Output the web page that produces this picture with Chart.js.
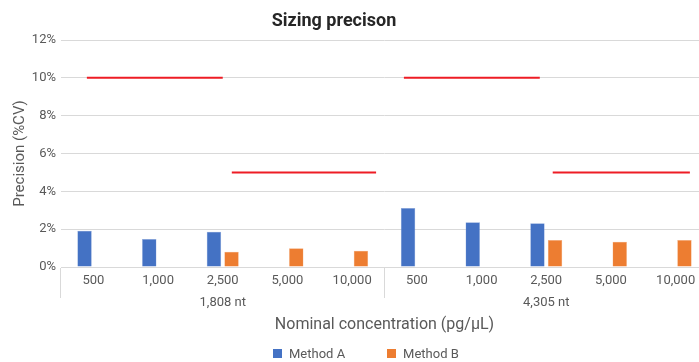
<!DOCTYPE html>
<html>
<head>
<meta charset="utf-8">
<script src="https://cdn.jsdelivr.net/npm/chart.js@4.4.1/dist/chart.umd.min.js"></script>
<style>
   body { margin: 0; overflow: hidden; background: #fff; }
   #wrap { position: relative; width: 720px; height: 362px; }
   #title { position: absolute; top: 9px; left: 234px; width: 200px; text-align: center;
      font: bold 18px Roboto, sans-serif; line-height: 22px; color: #262626; }
   #legend { position: absolute; top: 346px; left: 273px; font: 13px Roboto, sans-serif; color: #595959;
      white-space: nowrap; line-height: 16px; }
   #legend span.item { display: inline-block; margin-right: 42px; }
   #legend span.box { display: inline-block; width: 9px; height: 9px; margin-right: 7px; vertical-align: 0; }
</style>
</head>
<body>
<div id="wrap">
   <div id="title">Sizing precison</div>
   <canvas id="chart"></canvas>
   <div id="legend"></div>
</div>
<script>
const concentrations = ['500', '1,000', '2,500', '5,000', '10,000'];
const groups = ['1,808 nt', '4,305 nt'];
const methodA = [1.92, 1.48, 1.87, null, null, 3.12, 2.36, 2.31, null, null];
const methodB = [null, null, 0.81, 0.99, 0.86, null, null, 1.43, 1.34, 1.43];
// red limit lines, x in category index units, y in %
const limitStart = [-0.1, 2.14, 4.8, 7.1];
const limitEnd = [2.0, 4.37, 6.9, 9.22];
const limitValue = [10, 5, 10, 5];

const textColor = '#595959';
const gridColor = '#d9d9d9';

// two level labels: concentration, group name under the middle one
const labels = groups.flatMap((g) =>
   concentrations.map((c, i) => (i === Math.floor(concentrations.length / 2) ? [c, g] : [c, '']))
);

// parsing off so the category axis takes the fractional x positions as they are
const limits = limitValue.map((v, i) => ({
   type: 'line',
   label: 'limit',
   parsing: false,
   data: [{ x: limitStart[i], y: v }, { x: limitEnd[i], y: v }],
   borderColor: '#ee1c25',
   borderWidth: 2,
   pointRadius: 0,
   fill: false
}));

const chart = new Chart(document.getElementById('chart'), {
   type: 'bar',
   data: {
      labels: labels,
      datasets: [
         { label: 'Method A', data: methodA, backgroundColor: '#4472c4', borderColor: '#8faadc', borderWidth: 0.5 },
         { label: 'Method B', data: methodB, backgroundColor: '#ed7d31', borderColor: '#f4b183', borderWidth: 0.5 },
         ...limits
      ]
   },
   options: {
      responsive: true,
      maintainAspectRatio: false,
      animation: false,
      layout: { padding: { left: 0, right: 12, top: 40, bottom: 27 } },
      datasets: { bar: { categoryPercentage: 0.544, barPercentage: 0.82 } },
      plugins: {
         legend: { display: false },
         tooltip: { enabled: false }
      },
      scales: {
         x: {
            afterFit: (scale) => { scale.height = 68; },
            grid: {
               offset: true,
               drawOnChartArea: false,
               tickLength: 31,
               lineWidth: 1,
               color: (ctx) => (ctx.index === undefined || ctx.index % concentrations.length === 0 ? gridColor : 'rgba(0,0,0,0)')
            },
            border: { color: gridColor },
            ticks: {
               padding: -29,
               autoSkip: false,
               maxRotation: 0,
               color: textColor,
               font: { family: 'Roboto', size: 13, lineHeight: 1.75 }
            },
            title: {
               display: true,
               text: 'Nominal concentration (pg/µL)',
               color: textColor,
               font: { family: 'Roboto', size: 16 },
               padding: { top: 1, bottom: 0 }
            }
         },
         y: {
            min: 0,
            max: 12,
            afterFit: (scale) => { scale.width = 61; },
            ticks: {
               stepSize: 2,
               padding: 5,
               color: textColor,
               font: { family: 'Roboto', size: 13 },
               callback: (v) => v + '%'
            },
            grid: { color: gridColor, drawTicks: false },
            border: { display: false },
            title: {
               display: true,
               text: 'Precision (%CV)',
               color: textColor,
               font: { family: 'Roboto', size: 15 },
               padding: { top: 11, bottom: 0 }
            }
         }
      }
   }
});

// legend built from the bar datasets
document.getElementById('legend').innerHTML = chart.data.datasets
   .filter((d) => d.type !== 'line')
   .map((d) => '<span class="item"><span class="box" style="background:' + d.backgroundColor + '"></span>' + d.label + '</span>')
   .join('');
</script>
</body>
</html>
